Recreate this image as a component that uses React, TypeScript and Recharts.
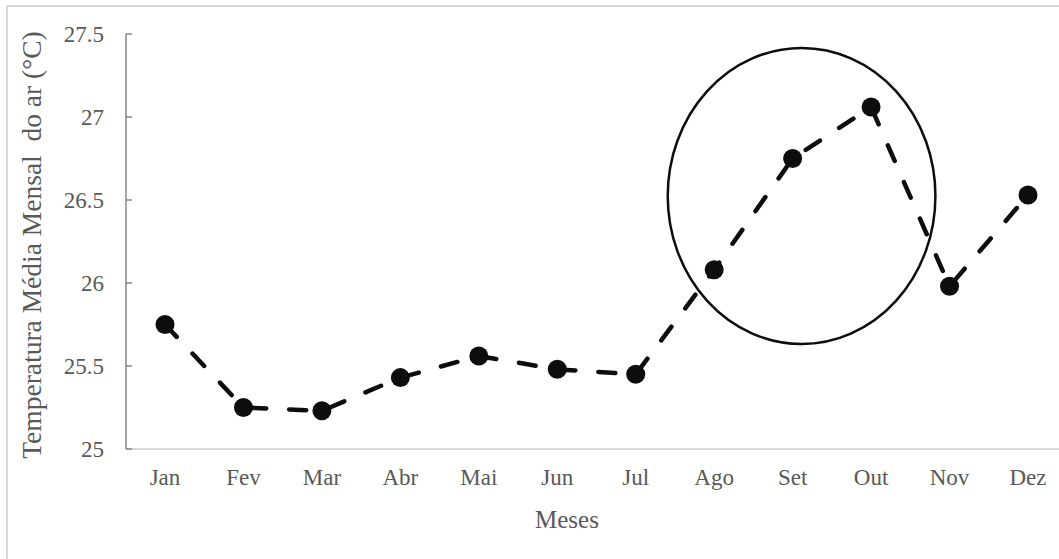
import React from 'react';
import {
  LineChart,
  Line,
  XAxis,
  YAxis,
  ReferenceArea,
} from 'recharts';

// Temperatura média mensal do ar (°C)
const meses = ['Jan', 'Fev', 'Mar', 'Abr', 'Mai', 'Jun', 'Jul', 'Ago', 'Set', 'Out', 'Nov', 'Dez'];
const temperatura = [25.75, 25.25, 25.23, 25.43, 25.56, 25.48, 25.45, 26.08, 26.75, 27.06, 25.98, 26.53];
const yTicks = [25, 25.5, 26, 26.5, 27, 27.5];

// highlighted period (Ago–Out)
const destaqueInicio = 'Ago';
const destaqueFim = 'Out';
const destaqueMin = 25.633;
const destaqueMax = 27.416;

const data = meses.map((mes, i) => ({ mes, temp: temperatura[i] }));

const FONT = '"Liberation Serif", "Times New Roman", serif';
const TEXT = '#595959';
const INK = '#0d0d0d';

function YTick(props: any) {
  const { x, y, payload } = props;
  return (
    <g>
      <line x1={x} x2={x + 6} y1={y} y2={y} stroke="#868686" strokeWidth={1.5} />
      <text
        x={x - 22}
        y={y}
        dy="0.35em"
        textAnchor="end"
        fill={TEXT}
        fontFamily={FONT}
        fontSize={23}
      >
        {payload.value}
      </text>
    </g>
  );
}

// ellipse around Ago–Out, slightly offset to the right of the span
function Elipse(props: any) {
  const { x, y, width, height } = props;
  return (
    <ellipse
      cx={x + width * 0.557}
      cy={y + height / 2}
      rx={width * 0.853}
      ry={height / 2}
      fill="none"
      stroke={INK}
      strokeWidth={2.5}
    />
  );
}

export default function App() {
  return (
    <div
      style={{
        position: 'fixed',
        left: 0,
        top: 0,
        width: 1059,
        height: 559,
        overflow: 'hidden',
        background: '#fff',
      }}
    >
      <div
        style={{
          position: 'absolute',
          left: 6,
          top: 5,
          width: 1200,
          height: 700,
          border: '2px solid #d9d9d9',
        }}
      />
      <div style={{ position: 'absolute', left: 0, top: 0 }}>
        <LineChart
          width={1100}
          height={559}
          data={data}
          margin={{ top: 34, right: 33, left: 0, bottom: 80 }}
        >
          <XAxis
            dataKey="mes"
            height={30}
            padding={{ left: 39, right: 39 }}
            axisLine={{ stroke: '#d9d9d9', strokeWidth: 2 }}
            tickLine={false}
            tickSize={0}
            tickMargin={20}
            interval={0}
            tick={{ fill: TEXT, fontFamily: FONT, fontSize: 23 }}
            label={{
              content: () => (
                <text
                  x={567}
                  y={528}
                  textAnchor="middle"
                  fill={TEXT}
                  fontFamily={FONT}
                  fontSize={25}
                >
                  Meses
                </text>
              ),
            }}
          />
          <YAxis
            width={126}
            domain={[25, 27.5]}
            ticks={yTicks}
            interval={0}
            axisLine={{ stroke: '#868686', strokeWidth: 1.5 }}
            tickLine={false}
            tickSize={0}
            tickMargin={0}
            tick={<YTick />}
            label={{
              content: () => (
                <text
                  transform="translate(31, 245) rotate(-90)"
                  textAnchor="middle"
                  dy="0.35em"
                  fill={TEXT}
                  fontFamily={FONT}
                  fontSize={27.5}
                  style={{ whiteSpace: 'pre' }}
                >
                  Temperatura Média Mensal  do ar (°C)
                </text>
              ),
            }}
          />
          <ReferenceArea
            x1={destaqueInicio}
            x2={destaqueFim}
            y1={destaqueMin}
            y2={destaqueMax}
            shape={<Elipse />}
          />
          <Line
            dataKey="temp"
            type="linear"
            stroke={INK}
            strokeWidth={4.5}
            strokeDasharray="17 23"
            strokeLinecap="round"
            dot={{ r: 9.5, fill: INK, stroke: 'none' }}
            activeDot={false}
            isAnimationActive={false}
          />
        </LineChart>
      </div>
    </div>
  );
}
